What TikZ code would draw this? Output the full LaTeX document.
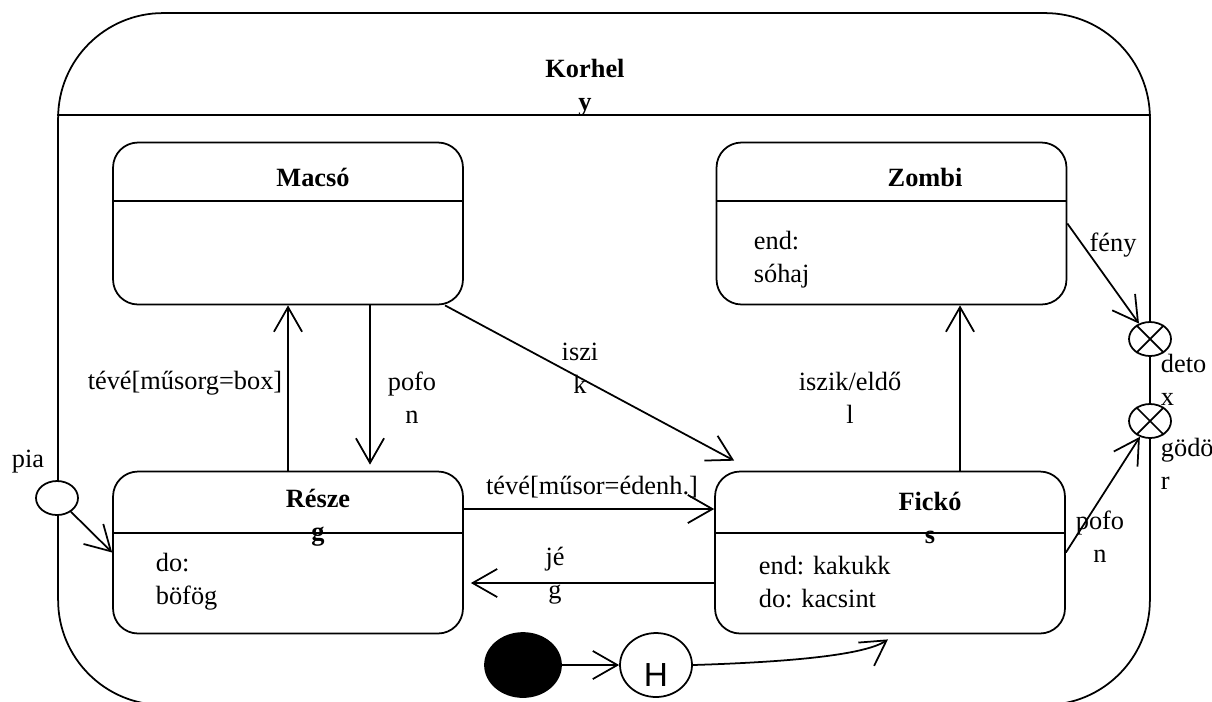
\documentclass[tikz,border=0pt]{standalone}
\usepackage{fontspec}
\setmainfont{Liberation Serif}
\newfontfamily\hfont{Liberation Sans}
\usetikzlibrary{arrows.meta,calc,shapes.geometric}
\begin{document}
\begin{tikzpicture}[x=0.02cm,y=-0.02cm, line width=1pt,
  every node/.style={font=\fontsize{15}{18.7}\selectfont, inner sep=0pt},
  statebox/.style={draw, rounded corners=0.5cm, minimum width=7cm, minimum height=3.24cm},
  lbl/.style={align=center},
  lbll/.style={align=left, anchor=west},
  ttl/.style={font=\fontsize{15}{18.7}\selectfont\bfseries, align=center},
  arr/.style={-{Straight Barb[length=14pt,width=16pt]}},
  pseudo/.style={draw, ellipse, fill=white, minimum width=0.84cm, minimum height=0.68cm},
  xcross/.style={draw, line width=1pt},
]
\useasboundingbox (0,0) rectangle (1212,701);
\clip (0,0) rectangle (1212,701);
% outer composite state
\node[draw, rounded corners=2.1cm, minimum width=21.84cm, minimum height=13.84cm] (K) at (604,359) {};
\draw (K.west |- 0,115) -- (K.east |- 0,115);
\node[ttl] (Kt) at (585,88) {Korhel\\y};
% inner states
\node[statebox] (M) at (288,223.5) {};
\draw ($(M.north west)+(0,59)$) -- ($(M.north east)+(0,59)$);
\node[ttl] (Mt) at (313,177) {Macsó};
\node[statebox] (Z) at (891.5,223.5) {};
\draw ($(Z.north west)+(0,59)$) -- ($(Z.north east)+(0,59)$);
\node[ttl] (Zt) at (925,177) {Zombi};
\node[lbll] (Zb) at (753,260) {end:\\sóhaj};
\node[statebox] (R) at (288,552.5) {};
\draw ($(R.north west)+(0,62)$) -- ($(R.north east)+(0,62)$);
\node[ttl] (Rt) at (318,518) {Része\\g};
\node[lbll] (Rb) at (155,582) {do:\\böfög};
\node[statebox] (F) at (890,552.5) {};
\draw ($(F.north west)+(0,62)$) -- ($(F.north east)+(0,62)$);
\node[ttl] (Ft) at (930,518) {Fickó\\s};
\node[lbll] (Fb) at (758,582) {end: kakukk\\do: kacsint};
% pseudo states
\node[pseudo] (pia) at (57,498) {};
\node (piat) at (28,462) {pia};
\node[pseudo] (detox) at (1150,339) {};
\draw (detox.45) -- (detox.225) (detox.135) -- (detox.315);
\node[lbll] (detoxt) at (1160,380) {deto\\x};
\node[pseudo] (godor) at (1150,421) {};
\draw (godor.45) -- (godor.225) (godor.135) -- (godor.315);
\node[lbll] (godort) at (1160,464) {gödö\\r};
\node[draw, ellipse, fill=black, minimum width=1.52cm, minimum height=1.28cm] (init) at (523,665) {};
\node[draw, ellipse, minimum width=1.44cm, minimum height=1.28cm] (H) at (656,665) {};
\node[font=\hfont\fontsize{19}{20}\selectfont] (Ht) at (656,675) {H};
% transitions
\draw[arr] (pia) -- (R.west);
\draw[arr] (R.north) -- (M.south);
\node[lbl] (l1) at (185,383) {tévé[műsorg=box]};
\draw[arr] (M.south -| 370,0) -- ($(R.north -| 370,0)+(0,-6)$);
\node[lbl] (l2) at (412,398) {pofo\\n};
\draw[arr] (M.south -| 445,0) -- ($(F.north west)+(20,-10)$);
\node[lbl] (l3) at (580,368) {iszi\\k};
\draw[arr] (F.north -| 960,0) -- (Z.south -| 960,0);
\node[lbl] (l4) at (850,398) {iszik/eldő\\l};
\draw[arr] (R.east |- 0,509) -- (F.west |- 0,509);
\node[lbl] (l5) at (592,487) {tévé[műsor=édenh.]};
\draw[arr] (F.west |- 0,583) -- ($(R.east |- 0,583)+(7,0)$);
\node[lbl] (l6) at (555,576) {jé\\g};
\draw[arr] (Z.east) -- (detox);
\node[lbl] (l7) at (1113,245) {fény};
\draw[arr] (F.east) -- (godor);
\node[lbl] (l8) at (1100,537) {pofo\\n};
\draw[arr] (init) -- (H);
\draw[arr] (H.east) .. controls (790,662) and (865,655) .. ($(F.south)+(-2,5)$);
\end{tikzpicture}
\end{document}
